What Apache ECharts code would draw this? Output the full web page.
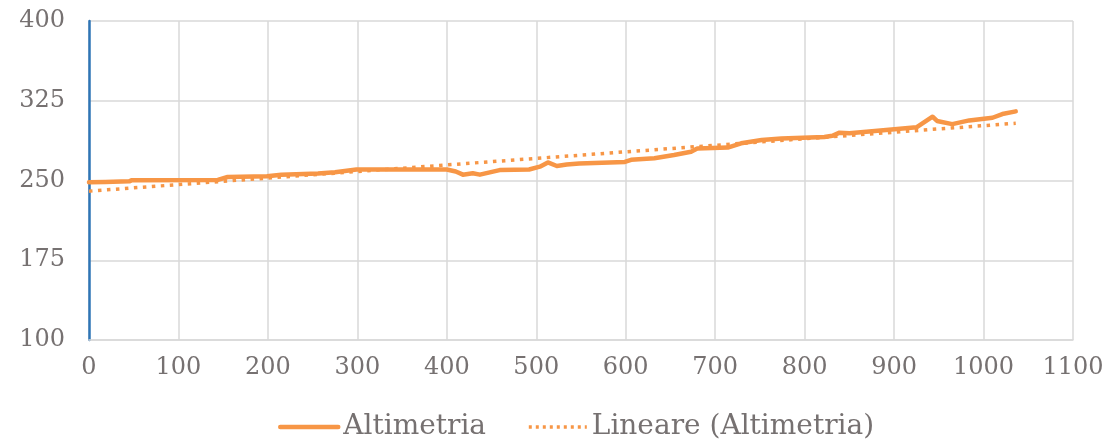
<!DOCTYPE html>
<html>
<head>
<meta charset="utf-8">
<script src="https://cdn.jsdelivr.net/npm/echarts@6/dist/echarts.min.js"></script>
<style>
html,body{margin:0;padding:0;background:#fff;}
#c{width:1108px;height:448px;}
</style>
</head>
<body>
<div id="c"></div>
<script>
var distances = [0,18,20,45,48,144,155,199,215,256,275,299,400,410,418,429,437,459,492,504,513,523,534,548,599,606,632,654,673,680,714,729,752,774,822,831,839,850,891,925,943,948,965,984,1010,1021,1036];
var altitudes = [248.3,248.5,249,249.2,250.3,250.5,253.3,254,255.5,256.5,257.7,260.3,260.3,258.5,255.5,256.8,255.5,259.8,260.3,263,267,263.6,265,266,267.5,269.5,271,274,277,280,281,285,288,289.6,291,292,295,294.5,297.5,300,310,306,303,306.5,309,312.5,315];
var trendX = [0,1036];
var trendY = [240,303.8];
var seriesNames = ['Altimetria','Lineare (Altimetria)'];

var altData = distances.map(function(d,i){return [d,altitudes[i]];});
var trendData = trendX.map(function(d,i){return [d,trendY[i]];});

var font = 'DejaVu Serif';
var chart = echarts.init(document.getElementById('c'));
chart.setOption({
  animation:false,
  grid:{left:89,right:35,top:21,bottom:108,containLabel:false},
  legend:{
    bottom:2,left:273,
    itemWidth:58,itemHeight:2,itemGap:41,
    itemStyle:{opacity:0},
    textStyle:{fontFamily:font,fontSize:28,color:'#767171'},
    data:[
      {name:seriesNames[0],lineStyle:{width:4.5,color:'#F79646'}},
      {name:seriesNames[1],lineStyle:{width:3.5,color:'#F79646',type:[3,4]}}
    ]
  },
  xAxis:{
    type:'value',min:0,max:1100,interval:100,
    axisLine:{show:true,lineStyle:{color:'#d9d9d9',width:1.5}},
    axisTick:{show:false},
    splitLine:{show:true,lineStyle:{color:'#d9d9d9',width:1.5}},
    axisLabel:{fontFamily:font,fontSize:24,color:'#767171',margin:16,formatter:function(v){return String(v);}}
  },
  yAxis:{
    type:'value',min:100,max:400,interval:75,
    axisLine:{show:true,lineStyle:{color:'#2E75B6',width:2.5}},
    axisTick:{show:false},
    splitLine:{show:true,lineStyle:{color:'#d9d9d9',width:1.5}},
    axisLabel:{fontFamily:font,fontSize:24,color:'#767171',margin:24,formatter:function(v){return String(v);}}
  },
  series:[
    {name:seriesNames[0],type:'line',data:altData,symbol:'none',
     lineStyle:{color:'#F79646',width:4.5,cap:'round',join:'round'},itemStyle:{color:'#F79646'},z:3},
    {name:seriesNames[1],type:'line',data:trendData,symbol:'none',
     lineStyle:{color:'#F79646',width:3.5,type:[3.5,5.5]},itemStyle:{color:'#F79646'},z:2}
  ]
});
</script>
</body>
</html>
